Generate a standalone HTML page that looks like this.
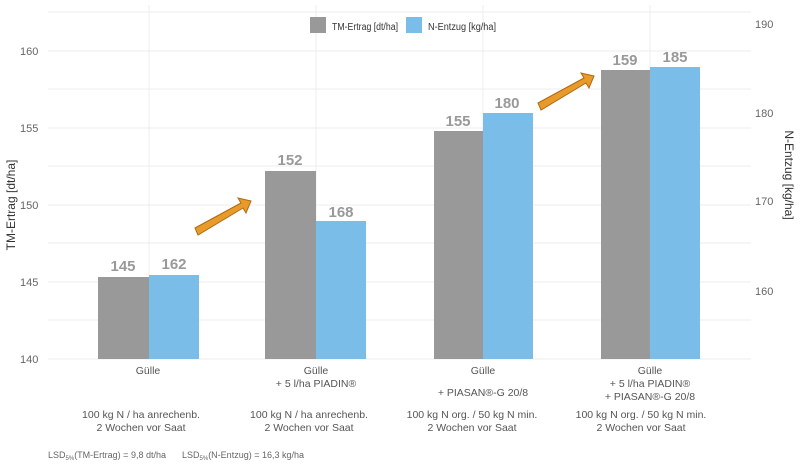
<!DOCTYPE html><html><head><style>body{margin:0;background:#fff}svg text{font-family:"Liberation Sans",sans-serif}</style></head><body>
<svg width="800" height="466" viewBox="0 0 800 466">
<g stroke="#ececec" stroke-width="1">
<line x1="48" y1="12" x2="751" y2="12"/><line x1="48" y1="51" x2="751" y2="51"/><line x1="48" y1="89" x2="751" y2="89"/><line x1="48" y1="128" x2="751" y2="128"/><line x1="48" y1="166" x2="751" y2="166"/><line x1="48" y1="205" x2="751" y2="205"/><line x1="48" y1="243" x2="751" y2="243"/><line x1="48" y1="282" x2="751" y2="282"/><line x1="48" y1="320" x2="751" y2="320"/><line x1="48" y1="359" x2="751" y2="359"/>
<line x1="149" y1="5" x2="149" y2="359"/><line x1="316" y1="5" x2="316" y2="359"/><line x1="483" y1="5" x2="483" y2="359"/><line x1="650" y1="5" x2="650" y2="359"/>
</g>
<g fill="#999"><rect x="98" y="277" width="51" height="82"/><rect x="265" y="171" width="51" height="188"/><rect x="434" y="131" width="49" height="228"/><rect x="601" y="70" width="49" height="289"/></g>
<g fill="#7bbde9"><rect x="149" y="275" width="50" height="84"/><rect x="316" y="221" width="50" height="138"/><rect x="483" y="113" width="50" height="246"/><rect x="650" y="67" width="50" height="292"/></g>
<g fill="#999" font-size="15" font-weight="bold" text-anchor="middle">
<text x="123" y="271">145</text><text x="174" y="269">162</text><text x="290" y="165">152</text><text x="341" y="217">168</text><text x="458" y="126">155</text><text x="507" y="108">180</text><text x="625" y="65">159</text><text x="675" y="62">185</text></g>
<g fill="#e89a2a" stroke="#b06a10" stroke-width="1"><polygon points="195,228 241,203 238,198 251,201 246,213 243,208 198,235"/><polygon points="538,103 584,78 581,73 594,76 589,88 586,83 541,110"/></g>
<g fill="#666" font-size="11"><text x="20" y="55">160</text><text x="20" y="132">155</text><text x="20" y="209">150</text><text x="20" y="286">145</text><text x="20" y="363">140</text>
<text x="755" y="28">190</text><text x="755" y="117">180</text><text x="755" y="205">170</text><text x="755" y="295">160</text></g>
<text transform="translate(15,205) rotate(-90)" font-size="12" fill="#333" text-anchor="middle">TM-Ertrag [dt/ha]</text>
<text transform="translate(785,175) rotate(90)" font-size="12" fill="#333" text-anchor="middle">N-Entzug [kg/ha]</text>
<rect x="310" y="17" width="16" height="16" fill="#999"/><text x="332" y="30" font-size="10" fill="#333" textLength="66" lengthAdjust="spacingAndGlyphs">TM-Ertrag [dt/ha]</text>
<rect x="406" y="17" width="16" height="16" fill="#7bbde9"/><text x="428" y="30" font-size="10" fill="#333" textLength="68" lengthAdjust="spacingAndGlyphs">N-Entzug [kg/ha]</text>
<g fill="#555" font-size="10.5" text-anchor="middle">
<text x="148" y="374">Gülle</text>
<text x="316" y="374">Gülle</text><text x="316" y="387">+ 5 l/ha PIADIN®</text>
<text x="483" y="374">Gülle</text><text x="483" y="396">+ PIASAN®-G 20/8</text>
<text x="650" y="374">Gülle</text><text x="650" y="387">+ 5 l/ha PIADIN®</text><text x="650" y="400">+ PIASAN®-G 20/8</text>
<text x="141" y="418">100 kg N / ha anrechenb.</text><text x="141" y="431">2 Wochen vor Saat</text>
<text x="309" y="418">100 kg N / ha anrechenb.</text><text x="309" y="431">2 Wochen vor Saat</text>
<text x="472" y="418">100 kg N org. / 50 kg N min.</text><text x="472" y="431">2 Wochen vor Saat</text>
<text x="641" y="418">100 kg N org. / 50 kg N min.</text><text x="641" y="431">2 Wochen vor Saat</text></g>
<g fill="#666" font-size="9"><text x="48" y="458">LSD<tspan font-size="6" dy="2">5%</tspan><tspan dy="-2">(TM-Ertrag) = 9,8 dt/ha</tspan></text>
<text x="182" y="458">LSD<tspan font-size="6" dy="2">5%</tspan><tspan dy="-2">(N-Entzug) = 16,3 kg/ha</tspan></text></g>
</svg></body></html>
